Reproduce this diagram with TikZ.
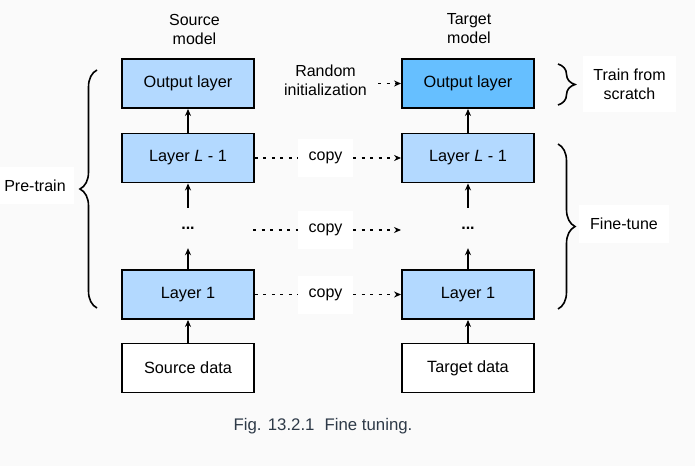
\documentclass[tikz,border=0pt]{standalone}
\usepackage{fontspec}
\setmainfont{Liberation Sans}
\usetikzlibrary{arrows.meta,decorations.pathreplacing}
\definecolor{bg}{HTML}{FAFAFA}
\definecolor{lightblue}{HTML}{B3D9FF}
\definecolor{darkblue}{HTML}{66BFFF}
\definecolor{captioncol}{HTML}{2E3A48}
\tikzset{
  layerbox/.style={draw=black, line width=1.9pt, minimum width=132pt, minimum height=49pt, inner sep=0pt, font=\fontsize{16.3}{19}\selectfont},
  lbl/.style={font=\fontsize{16}{19}\selectfont, align=center, inner sep=0pt},
  whitelbl/.style={fill=white, font=\fontsize{16}{19}\selectfont, align=center, inner sep=0pt},
  uparrow/.style={line width=1.6pt, -{Stealth[length=7pt,width=6pt]}},
  copyline/.style={line width=1.6pt, dash pattern=on 3pt off 5.5pt},
  copyarrow/.style={line width=1.6pt, dash pattern=on 3pt off 5.5pt, -{Stealth[length=7pt,width=6pt]}},
  bracestyle/.style={line width=1.6pt, decorate, decoration={brace, amplitude=17pt}},
}
\begin{document}
\begin{tikzpicture}[x=1pt, y=-1pt]
\useasboundingbox (0,0) rectangle (695,466);
\fill[bg] (0,0) rectangle (695,466);

% titles
\node[lbl] (srcmodel) at (194.5,29) {Source\\model};
\node[lbl] (tgtmodel) at (469,29) {Target\\model};

% source column
\node[layerbox, fill=lightblue] (sout) at (188,83.5) {Output layer};
\node[layerbox, fill=lightblue] (sl) at (188,158) {Layer \textit{L} - 1};
\node[lbl, minimum height=40pt] (sdots) at (188,228) {};
\node[lbl, font=\bfseries\fontsize{16}{19}\selectfont] (sdotstext) at (188,228) {\raisebox{-3pt}{...}};
\node[layerbox, fill=lightblue] (s1) at (188,294.5) {Layer 1};
\node[layerbox, fill=white] (sdata) at (188,368) {Source data};

% target column
\node[layerbox, fill=darkblue] (tout) at (468,83.5) {Output layer};
\node[layerbox, fill=lightblue] (tl) at (468,158) {Layer \textit{L} - 1};
\node[lbl, minimum height=40pt] (tdots) at (468,228) {};
\node[lbl, font=\bfseries\fontsize{16}{19}\selectfont] (tdotstext) at (468,228) {\raisebox{-3pt}{...}};
\node[layerbox, fill=lightblue] (t1) at (468,294.5) {Layer 1};
\node[layerbox, fill=white] (tdata) at (468,368) {Target data};

% vertical arrows
\draw[uparrow] (sdata) -- (s1);
\draw[uparrow] (s1) -- (sdots);
\draw[uparrow] (sdots) -- (sl);
\draw[uparrow] (sl) -- (sout);
\draw[uparrow] (tdata) -- (t1);
\draw[uparrow] (t1) -- (tdots);
\draw[uparrow] (tdots) -- (tl);
\draw[uparrow] (tl) -- (tout);

% random init
\node[lbl] (rand) at (325.5,80) {Random\\initialization};
\coordinate (randend) at (378,83.5);
\draw[copyarrow] (randend) -- (tout.west);

% copy labels
\node[whitelbl, minimum width=55pt, minimum height=38pt] (copy1) at (325.5,158) {copy};
\node[whitelbl, minimum width=55pt, minimum height=38pt] (copy2) at (325.5,230) {copy};
\node[whitelbl, minimum width=55pt, minimum height=38pt] (copy3) at (325.5,294.5) {copy};
\coordinate (dotsrc) at (253,230);
\coordinate (dottgt) at (401,230);

\draw[copyline] (sl.east) -- (copy1.west);
\draw[copyarrow] (copy1.east) -- (tl.west);
\draw[copyline] (dotsrc) -- (copy2.west);
\draw[copyarrow] (copy2.east) -- (dottgt);
\draw[copyline] (s1.east) -- (copy3.west);
\draw[copyarrow] (copy3.east) -- (t1.west);

% braces
\coordinate (pb) at (97,308);
\coordinate (pt) at (97,70);
\draw[bracestyle] (pb) -- (pt);
\node[whitelbl, minimum width=78pt, minimum height=37pt] (pretrain) at (35,185.5) {Pre-train};

\coordinate (tb1) at (558,64);
\coordinate (tb2) at (558,105);
\draw[bracestyle] (tb1) -- (tb2);
\node[whitelbl, minimum width=93pt, minimum height=56pt] (scratch) at (629.5,84) {Train from\\scratch};

\coordinate (fb1) at (558,144);
\coordinate (fb2) at (558,309);
\draw[bracestyle] (fb1) -- (fb2);
\node[whitelbl, minimum width=90pt, minimum height=38pt] (finetune) at (624,224) {Fine-tune};

% caption
\node[lbl, text=captioncol, font=\fontsize{16.8}{20}\selectfont] (caption) at (323,426) {Fig. 13.2.1\hspace{0.6em}Fine tuning.};
\end{tikzpicture}
\end{document}
